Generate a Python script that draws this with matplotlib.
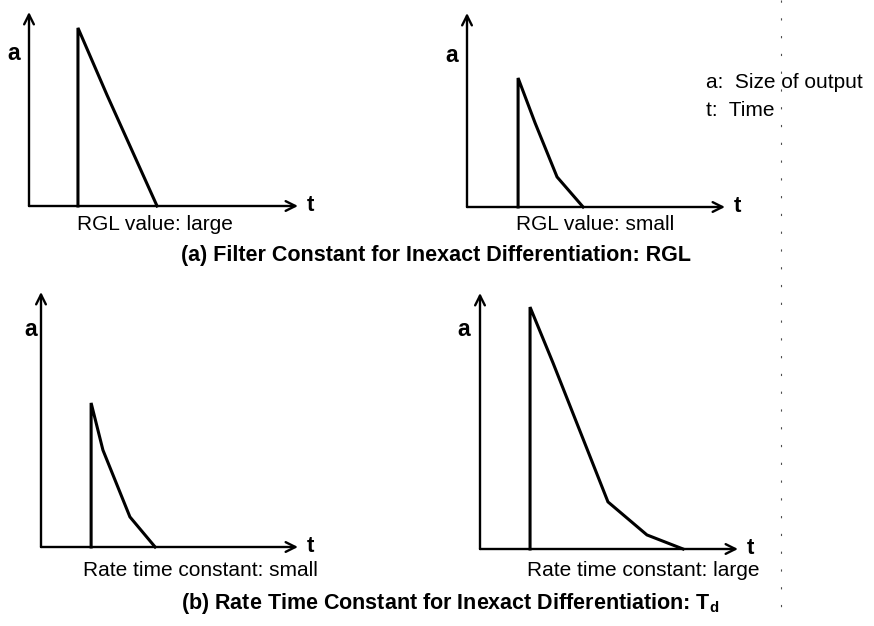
import matplotlib.pyplot as plt

plt.rcParams['font.family'] = ['Liberation Sans', 'DejaVu Sans']

W, H = 874, 626

# pulse responses, time and size of output on a 0-10 scale per panel
t_rgl_large = [1.82, 1.82, 2.90, 4.76]
a_rgl_large = [0.0, 9.18, 5.72, 0.0]

t_rgl_small = [1.98, 1.98, 2.64, 3.49, 4.50]
a_rgl_small = [0.0, 6.65, 4.33, 1.55, 0.0]

t_td_small = [1.95, 1.95, 2.41, 3.46, 4.44]
a_td_small = [0.0, 5.65, 3.80, 1.18, 0.0]

t_td_large = [1.94, 1.94, 2.83, 4.96, 6.47, 7.87]
a_td_large = [0.0, 9.45, 7.27, 1.84, 0.55, 0.0]

panel_labels = ["RGL value: large", "RGL value: small",
                "Rate time constant: small", "Rate time constant: large"]
titles = ["(a) Filter Constant for Inexact Differentiation: RGL",
          "(b) Rate Time Constant for Inexact Differentiation: T$_\\mathregular{d}$"]
legend_lines = ["a:  Size of output", "t:  Time"]

# panel boxes in pixels: left, bottom, right, top
boxes = [(29, 206, 298, 12), (467, 207, 725, 13),
         (41, 547, 298, 292), (480, 549, 738, 293)]
series = [(t_rgl_large, a_rgl_large), (t_rgl_small, a_rgl_small),
          (t_td_small, a_td_small), (t_td_large, a_td_large)]
label_pos = [(155, 224), (595, 224), (200, 571), (643, 570)]
a_pos = [(14, 53), (452, 55), (31, 330), (464, 329)]

fig = plt.figure(figsize=(W / 100, H / 100), dpi=100)

for (l, b, r, t), (ts, vals), lab, lp, ap in zip(boxes, series, panel_labels, label_pos, a_pos):
    ax = fig.add_axes([l / W, 1 - b / H, (r - l) / W, (b - t) / H])
    ax.set_xlim(0, 10)
    ax.set_ylim(0, 10)
    ax.axis('off')
    ax.plot(ts, vals, color='black', lw=2.2, solid_joinstyle='miter', clip_on=False)
    arrow = dict(arrowstyle='->,head_length=0.7,head_width=0.35', lw=1.7,
                 color='black', shrinkA=0, shrinkB=0)
    ax.annotate('', xy=(1, 0), xytext=(0, 0), xycoords='axes fraction', arrowprops=arrow)
    ax.annotate('', xy=(0, 1), xytext=(0, 0), xycoords='axes fraction', arrowprops=arrow)
    ax.annotate('t', xy=(1, 0), xycoords='axes fraction', xytext=(9, 0),
                textcoords='offset pixels', ha='left', va='center',
                fontsize=16, fontweight='bold')
    fig.text(ap[0] / W, 1 - ap[1] / H, 'a', ha='center', va='center',
             fontsize=16.5, fontweight='bold')
    fig.text(lp[0] / W, 1 - lp[1] / H, lab, ha='center', va='center', fontsize=15)

fig.text(436 / W, 1 - 256 / H, titles[0], ha='center', va='center',
         fontsize=15.5, fontweight='bold')
fig.text(450 / W, 1 - 604 / H, titles[1], ha='center', va='center',
         fontsize=15.5, fontweight='bold')

for i, line in enumerate(legend_lines):
    fig.text(706 / W, 1 - (82 + 29 * i) / H, line, ha='left', va='center', fontsize=15)

# faint scan separator on the right
fig.add_artist(plt.Line2D([781 / W, 781 / W], [1.0, 1 - 610 / H], color='black',
                          lw=0.8, ls=(0, (2, 14)), alpha=0.7))

fig.savefig('out.png', dpi=100, facecolor='white')
